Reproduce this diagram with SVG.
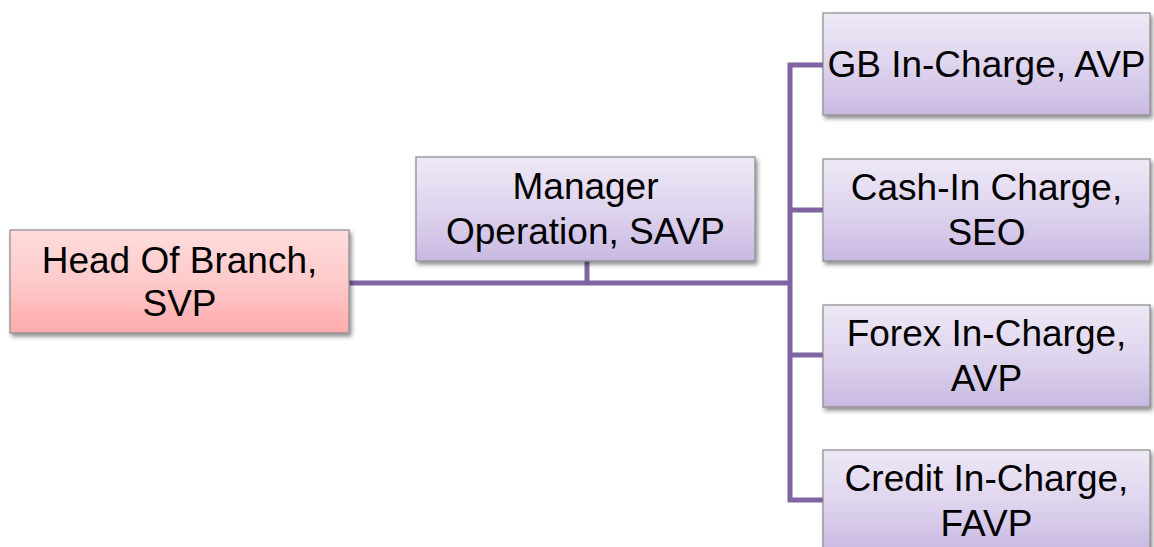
<svg xmlns="http://www.w3.org/2000/svg" width="1154" height="547" viewBox="0 0 1154 547">
<style>
.box{stroke:#8a8a8a;stroke-width:1.2;filter:url(#sh)}
.p{fill:url(#gp)}
.r{fill:url(#gr)}
.t{font-family:"Liberation Sans",Arial,sans-serif;font-size:37px;fill:#000;text-anchor:middle}
.c{fill:none;stroke:#8064A2;stroke-width:5;stroke-linejoin:miter;stroke-linecap:butt}
</style>
<defs>
<linearGradient id="gp" x1="0" y1="0" x2="0" y2="1">
<stop offset="0" stop-color="#EEE8F6"/>
<stop offset="0.5" stop-color="#DFD5EE"/>
<stop offset="1" stop-color="#C9B9E2"/>
</linearGradient>
<linearGradient id="gr" x1="0" y1="0" x2="0" y2="1">
<stop offset="0" stop-color="#FFDCDC"/>
<stop offset="0.5" stop-color="#FFCACA"/>
<stop offset="1" stop-color="#FFABAB"/>
</linearGradient>
<filter id="sh" x="-5%" y="-10%" width="115%" height="130%">
<feDropShadow dx="2" dy="3" stdDeviation="2" flood-color="#000" flood-opacity="0.45"/>
</filter>
</defs>
<g id="connectors">
<path class="c" d="M349 283H790"/>
<path class="c" d="M587 261V283"/>
<path class="c" d="M823 65H790V500H823"/>
<path class="c" d="M790 210H823"/>
<path class="c" d="M790 355H823"/>
</g>
<g id="head">
<rect class="box r" x="10" y="230" width="339" height="103"/>
<text class="t" x="179.5" y="273">Head Of Branch,</text>
<text class="t" x="179.5" y="316">SVP</text>
</g>
<g id="manager">
<rect class="box p" x="416" y="157" width="339" height="104"/>
<text class="t" x="585.5" y="199">Manager</text>
<text class="t" x="585.5" y="244">Operation, SAVP</text>
</g>
<g id="gb">
<rect class="box p" x="823" y="13" width="327" height="102"/>
<text class="t" x="986.5" y="77">GB In-Charge, AVP</text>
</g>
<g id="cash">
<rect class="box p" x="823" y="159" width="327" height="102"/>
<text class="t" x="986.5" y="200">Cash-In Charge,</text>
<text class="t" x="986.5" y="245">SEO</text>
</g>
<g id="forex">
<rect class="box p" x="823" y="305" width="327" height="102"/>
<text class="t" x="986.5" y="346">Forex In-Charge,</text>
<text class="t" x="986.5" y="391">AVP</text>
</g>
<g id="credit">
<rect class="box p" x="823" y="450" width="327" height="102"/>
<text class="t" x="986.5" y="491">Credit In-Charge,</text>
<text class="t" x="986.5" y="536">FAVP</text>
</g>
</svg>
